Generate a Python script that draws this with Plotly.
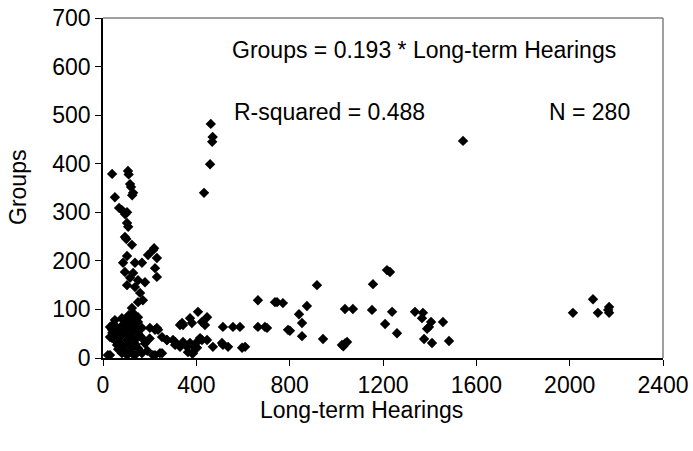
import plotly.graph_objects as go

# Long-term Hearings (x) and Groups (y)
hearings = [
    1543, 462, 470, 468, 459, 433,
    39, 107, 110, 116, 120, 129, 125, 51, 69, 80, 103, 95, 103, 108, 94, 100, 124, 219, 214,
    103, 193, 231, 137, 167, 86, 223, 94, 129, 116, 231, 150, 180, 103, 137, 159, 171, 124, 150,
    51, 86, 150, 30, 60, 116, 137, 201, 231, 39, 73, 107, 150, 30, 124, 214, 244, 236, 274, 309,
    330, 343, 373, 381, 407, 446, 437, 360, 381, 403, 416, 446, 471, 514, 557, 587, 514, 536,
    596, 609, 664, 737, 771, 664, 694, 793,
    424, 339, 300, 343, 373, 403, 424, 394, 364, 386, 510,
    917, 746, 874, 840, 853, 703, 801, 853, 943, 1024, 1046, 1037, 1030, 1157, 1037, 1071, 1153,
    1209, 1217, 1230, 1239, 1260, 1337, 1371, 1367, 1406, 1397, 1389, 1457, 1376, 1410, 1483,
    2014, 2100, 2121, 2169, 2169, 2165,
    81, 107, 150, 39, 73, 124, 167, 223, 30, 64, 103, 137, 167, 253, 274, 330, 60, 86, 124, 309,
    21, 81, 103, 137, 167, 223, 253,
    60, 90, 120, 45, 100, 130, 75, 110, 95, 150, 180, 200, 190,
    40, 55, 70, 85, 100, 115, 140, 160, 65, 90, 110, 130,
]
groups = [
    447, 482, 455, 445, 399, 340,
    379, 385, 378, 358, 352, 340, 335, 331, 309, 305, 300, 296, 278, 270, 249, 245, 233, 226, 222,
    210, 212, 206, 196, 196, 196, 185, 177, 175, 165, 167, 160, 156, 150, 146, 134, 119, 103, 115,
    78, 78, 84, 64, 62, 68, 64, 62, 62, 41, 43, 47, 51, 6, 10, 6, 10, 58, 37, 33,
    23, 68, 82, 72, 95, 84, 68, 23, 10, 21, 41, 37, 23, 64, 64, 64, 27, 23,
    21, 23, 119, 115, 113, 64, 64, 58,
    74, 72, 37, 33, 31, 33, 37, 21, 12, 10, 31,
    150, 115, 107, 90, 72, 62, 56, 45, 39, 27, 33, 30, 24, 152, 101, 101, 99,
    70, 181, 177, 95, 51, 95, 93, 82, 74, 64, 60, 74, 39, 31, 35,
    93, 121, 93, 105, 93, 99,
    82, 78, 74, 58, 62, 58, 62, 58, 43, 41, 37, 37, 41, 43, 37, 68, 27, 23, 21, 27,
    6, 10, 6, 6, 10, 6, 10,
    50, 55, 45, 70, 65, 80, 30, 30, 15, 20, 30, 40, 15,
    52, 35, 48, 68, 72, 52, 28, 45, 18, 14, 88, 92,
]

x_ticks = [0, 400, 800, 1200, 1600, 2000, 2400]
y_ticks = [0, 100, 200, 300, 400, 500, 600, 700]

FONT = "Liberation Sans, Arial, sans-serif"
FS = 23

fig = go.Figure()
fig.add_trace(go.Scatter(
    x=hearings, y=groups, mode="markers",
    marker=dict(symbol="diamond", size=8, color="black"),
    showlegend=False,
))

fig.update_layout(
    template="none",
    width=693, height=451,
    margin=dict(l=103, r=30, t=18, b=93, pad=0),
    paper_bgcolor="white", plot_bgcolor="white",
    font=dict(family=FONT, size=FS, color="black"),
    xaxis=dict(
        range=[0, 2400], tickvals=x_ticks, ticks="outside", ticklen=6,
        tickcolor="black", showline=True, linecolor="black", linewidth=1.5,
        showgrid=False, zeroline=False, automargin=False,
        tickfont=dict(size=FS),
    ),
    yaxis=dict(
        range=[0, 700], tickvals=y_ticks, ticks="outside", ticklen=6,
        tickcolor="black", showline=True, linecolor="black", linewidth=1.5,
        showgrid=False, zeroline=False, automargin=False,
        tickfont=dict(size=FS),
    ),
    shapes=[
        dict(type="line", xref="paper", yref="paper", x0=0, x1=1, y0=1, y1=1,
             line=dict(color="#808080", width=1.5)),
        dict(type="line", xref="paper", yref="paper", x0=1, x1=1, y0=0, y1=1,
             line=dict(color="#808080", width=1.5)),
    ],
    annotations=[
        dict(text="Groups = 0.193 * Long-term Hearings", xref="paper", yref="paper",
             x=0.227, y=0.906, xanchor="left", yanchor="middle", showarrow=False,
             font=dict(size=FS)),
        dict(text="R-squared = 0.488", xref="paper", yref="paper",
             x=0.230, y=0.724, xanchor="left", yanchor="middle", showarrow=False,
             font=dict(size=FS)),
        dict(text="N = 280", xref="paper", yref="paper",
             x=0.945, y=0.724, xanchor="right", yanchor="middle", showarrow=False,
             font=dict(size=FS)),
        dict(text="Long-term Hearings", xref="paper", yref="paper",
             x=(361 - 103) / 560, y=(358 - 410) / 340, xanchor="center", yanchor="middle",
             showarrow=False, font=dict(size=FS)),
        dict(text="Groups", xref="paper", yref="paper", textangle=-90,
             x=(18 - 103) / 560, y=0.5, xanchor="center", yanchor="middle",
             showarrow=False, font=dict(size=FS)),
    ],
)

fig.write_html("out.html", config={"displayModeBar": False},
               post_script="document.body.style.margin='0px';")
